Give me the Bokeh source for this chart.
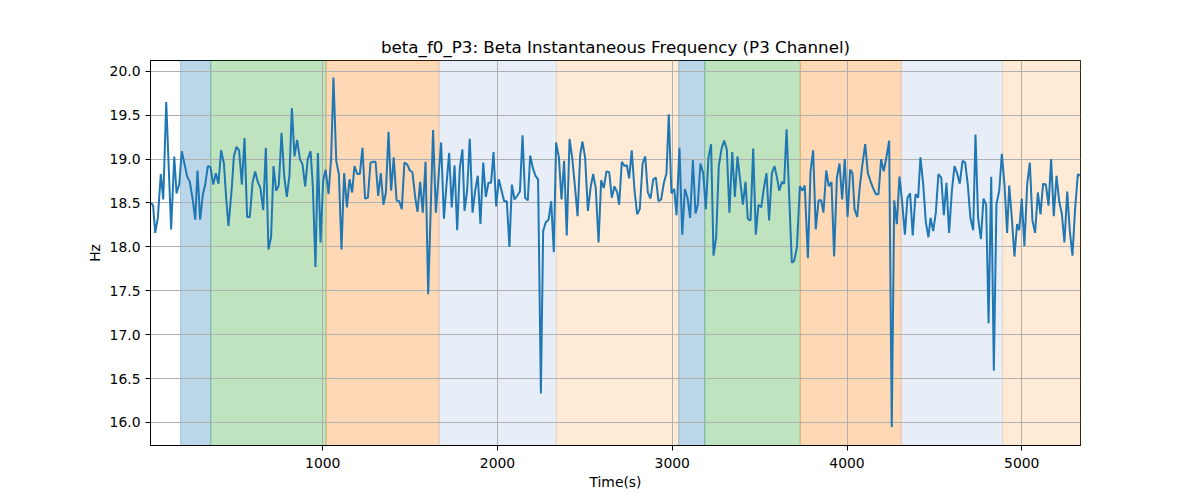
from bokeh.plotting import figure
from bokeh.models import BoxAnnotation, ColumnDataSource, FixedTicker, Range1d, PrintfTickFormatter
from bokeh.embed import file_html
from bokeh.resources import INLINE

# ---- data ----
time_s = [
    18, 29, 41, 56, 73, 87, 104, 132, 150, 163, 178, 193, 209, 224, 239, 254, 270, 283, 298, 314,
    327, 342, 357, 373, 388, 403, 418, 434, 447, 460,
    478, 491, 506, 521, 537, 552, 567, 582, 598, 613, 628, 643, 659, 674, 689, 704, 718, 733, 748, 764,
    779, 794, 809, 823, 838, 853, 869, 884, 899,
    914, 930, 943, 958, 972, 987, 1002, 1016, 1033, 1048, 1061, 1077, 1092, 1107, 1122, 1138, 1153, 1168,
    1181, 1197, 1212, 1227, 1242, 1258, 1273, 1288, 1302, 1317, 1332, 1347,
    1361, 1376, 1391, 1406, 1422, 1437, 1452, 1467, 1483, 1498, 1513, 1529, 1542, 1557, 1572, 1588, 1603,
    1631, 1647, 1662, 1677, 1693, 1708, 1723, 1738, 1754, 1769, 1784, 1799,
    1811, 1826, 1841, 1857, 1872, 1887, 1902, 1918, 1933, 1948, 1963, 1977, 1992, 2007, 2023, 2038, 2053,
    2068, 2082, 2097, 2112, 2128, 2143, 2158, 2173, 2187, 2202, 2217, 2232,
    2248, 2261, 2276, 2292, 2307, 2322, 2335, 2351, 2366, 2381, 2396, 2412, 2427, 2442, 2458, 2473, 2486,
    2501, 2517, 2532, 2547, 2562, 2578, 2593, 2608, 2623, 2639, 2654, 2669, 2685,
    2696, 2711, 2727, 2740, 2753, 2768, 2784, 2799, 2814, 2830, 2845, 2860, 2875, 2891, 2906, 2921, 2936,
    2952, 2967, 2980, 2995, 3011, 3024, 3041, 3057, 3072, 3087, 3102, 3118, 3133,
    3146, 3161, 3177, 3192, 3207, 3222, 3236, 3251, 3266, 3282, 3297, 3312, 3327, 3343, 3358, 3373, 3388,
    3404, 3419, 3432, 3448, 3463, 3478, 3493, 3509, 3524, 3539, 3554, 3570, 3585,
    3600, 3612, 3627, 3640, 3654, 3684, 3697, 3713, 3730, 3745, 3758, 3776, 3791, 3806, 3821, 3837, 3852,
    3865, 3881, 3896, 3911, 3926, 3942, 3957, 3972, 3987, 4003, 4018, 4031,
    4043, 4058, 4073, 4088, 4104, 4119, 4134, 4149, 4165, 4180, 4195, 4210, 4226, 4241, 4256, 4270, 4285,
    4300, 4315, 4331, 4346, 4361, 4376, 4392, 4407, 4420, 4436, 4451, 4466, 4478,
    4493, 4508, 4523, 4539, 4554, 4569, 4584, 4600, 4615, 4630, 4645, 4661, 4676, 4691, 4706, 4722, 4735,
    4750, 4766, 4781, 4796, 4810, 4825, 4840, 4855, 4871, 4886, 4901, 4916,
    4928, 4943, 4958, 4973, 4985, 5000, 5015, 5031, 5046, 5061, 5076, 5092, 5107, 5122, 5138, 5153, 5168,
    5183, 5199, 5214, 5229, 5244, 5260, 5275, 5290, 5305, 5321, 5332,
]

beta_f0_hz = [
    18.50, 18.47, 18.16, 18.33, 18.83, 18.54, 19.65, 18.20, 19.03, 18.61, 18.71, 19.09, 18.94, 18.80, 18.74,
    18.56, 18.31, 18.87, 18.31, 18.60, 18.71, 18.92, 18.91, 18.71, 18.84, 18.72, 19.10, 18.95, 18.56, 18.24,
    18.64, 19.03, 19.14, 19.10, 18.71, 19.24, 18.34, 18.34, 18.73, 18.86, 18.74, 18.67, 18.42, 19.13, 17.97,
    18.11, 18.92, 18.64, 18.70, 19.30, 18.81, 18.57, 18.81, 19.58, 19.03, 19.22, 19.00, 18.94, 18.69,
    19.00, 19.09, 18.69, 17.77, 19.07, 18.05, 18.75, 18.88, 18.60, 19.02, 19.93, 18.98, 18.83, 17.97, 18.84,
    18.45, 18.77, 18.62, 18.92, 18.83, 18.83, 19.13, 18.55, 18.56, 18.96, 18.97, 18.97, 18.58, 18.84, 18.48,
    18.62, 19.31, 18.64, 19.02, 18.53, 18.52, 18.43, 18.96, 18.94, 18.87, 18.85, 18.56, 18.40, 18.74, 18.39,
    18.97, 17.46, 19.33, 18.39, 18.79, 19.19, 18.32, 18.71, 19.07, 18.45, 18.93, 18.19, 18.90, 19.11,
    18.41, 18.64, 19.23, 18.39, 18.64, 18.81, 18.26, 18.96, 18.57, 18.73, 18.73, 19.08, 18.46, 18.77, 18.64,
    18.52, 18.52, 18.00, 18.71, 18.54, 18.58, 18.63, 19.27, 18.56, 18.53, 19.04, 18.90, 18.81, 18.77,
    16.33, 18.18, 18.28, 18.31, 18.52, 17.94, 19.19, 19.02, 18.54, 18.98, 18.13, 19.23, 19.02, 18.71, 18.35,
    19.05, 19.20, 19.02, 18.41, 18.67, 18.83, 18.67, 18.05, 18.76, 18.67, 18.86, 18.85, 18.56, 18.69, 18.62,
    18.48, 18.97, 18.92, 18.93, 18.78, 19.10, 18.64, 18.37, 18.43, 18.95, 19.03, 18.62, 18.55, 18.77, 18.79,
    18.52, 18.54, 18.73, 18.84, 19.51, 18.61, 18.66, 18.36, 19.13, 18.14, 18.66, 18.56, 18.33, 18.99, 18.38,
    18.48, 18.95, 18.84, 18.43, 19.02, 19.17, 17.90, 18.11, 18.92, 19.12, 19.21, 19.11, 18.39, 19.08, 18.57,
    19.03, 18.77, 18.48, 18.74, 18.32, 18.30, 19.12, 18.14, 18.48, 18.45, 18.67, 18.84, 18.30, 18.84, 18.92,
    18.78, 18.64, 18.74, 18.72, 19.34, 17.82, 17.84, 17.99, 18.69, 18.64, 18.70, 17.87, 18.86, 19.10, 18.20,
    18.53, 18.53, 18.39, 18.87, 18.69, 18.74, 17.89, 18.79, 18.95, 18.54, 19.00, 18.34, 18.88, 18.84,
    18.43, 18.34, 18.69, 18.94, 19.17, 18.84, 18.75, 18.67, 18.60, 18.60, 19.00, 18.86, 19.03, 19.21, 15.95,
    18.53, 18.26, 18.80, 18.52, 18.14, 18.56, 18.61, 18.13, 18.60, 18.56, 19.02, 18.71, 18.28, 18.11, 18.33,
    18.18, 18.39, 18.83, 18.79, 18.36, 18.73, 18.16, 18.64, 18.92, 18.84, 18.72, 18.98, 18.96, 18.71, 18.33,
    18.19, 19.28, 18.33, 18.09, 18.55, 18.48, 17.13, 18.80, 16.59, 18.49, 18.64, 19.06, 18.71, 18.16,
    18.70, 18.33, 17.89, 18.26, 18.19, 18.55, 18.01, 18.72, 18.96, 18.30, 18.16, 18.62, 18.37, 18.72, 18.71,
    18.47, 19.00, 18.35, 18.81, 18.52, 18.38, 18.05, 18.63, 18.18, 17.90, 18.43, 18.83, 18.81,
]

span_start = [186, 359, 1019, 1666, 2337, 3037, 3186, 3732, 4310, 4890]
span_end = [359, 1019, 1666, 2337, 3037, 3186, 3732, 4310, 4890, 5336]
span_color = ["#1f77b4", "#2ca02c", "#ff7f0e", "#aec7e8", "#ffbb78",
              "#1f77b4", "#2ca02c", "#ff7f0e", "#aec7e8", "#ffbb78"]

x_ticks = [1000, 2000, 3000, 4000, 5000]
y_ticks = [16.0, 16.5, 17.0, 17.5, 18.0, 18.5, 19.0, 19.5, 20.0]

FONT = "DejaVu Sans"

p = figure(
    frame_width=930, frame_height=385,
    min_border_left=150, min_border_right=104, min_border_top=60, min_border_bottom=40,
    x_range=Range1d(14, 5336), y_range=Range1d(15.738, 20.123),
    output_backend="svg", toolbar_location=None,
    title="beta_f0_P3: Beta Instantaneous Frequency (P3 Channel)",
)
p.title.align = "center"
p.title.text_font = FONT
p.title.text_font_size = "16.7px"
p.title.text_font_style = "normal"
p.title.text_color = "black"
p.title.standoff = 7

p.outline_line_color = "black"
p.outline_line_alpha = 1.0
p.outline_line_width = 1

for ax in (p.xaxis[0], p.yaxis[0]):
    ax.axis_line_color = "black"
    ax.major_tick_line_color = "black"
    ax.major_tick_out = 5
    ax.major_tick_in = 0
    ax.minor_tick_line_color = None
    ax.major_label_text_font = FONT
    ax.major_label_text_font_size = "13.9px"
    ax.major_label_text_color = "black"
    ax.axis_label_text_font = FONT
    ax.axis_label_text_font_size = "13.9px"
    ax.axis_label_text_font_style = "normal"
    ax.axis_label_text_color = "black"

p.xaxis[0].major_label_standoff = 7
p.xaxis[0].axis_label_standoff = 3
p.yaxis[0].major_label_standoff = 5
p.yaxis[0].axis_label_standoff = 4

p.xaxis[0].ticker = FixedTicker(ticks=x_ticks)
p.yaxis[0].ticker = FixedTicker(ticks=y_ticks)
p.yaxis[0].formatter = PrintfTickFormatter(format="%.1f")
p.xaxis[0].axis_label = "Time(s)"
p.yaxis[0].axis_label = "Hz"

for g in (p.xgrid[0], p.ygrid[0]):
    g.grid_line_color = "#b0b0b0"
    g.grid_line_width = 1

boxes = []
for s, e, c in zip(span_start, span_end, span_color):
    boxes.append(BoxAnnotation(left=s, right=e, fill_color=c, fill_alpha=0.3,
                               line_color=c, line_alpha=0.3, line_width=1, level="underlay"))
# spans first, so the grid is painted over them (as in the reference)
p.center = boxes + list(p.center)

src = ColumnDataSource(data=dict(t=time_s, f=beta_f0_hz))
p.line("t", "f", source=src, line_color="#1f77b4", line_width=2)

open("out.html", "w").write(file_html(p, INLINE))
